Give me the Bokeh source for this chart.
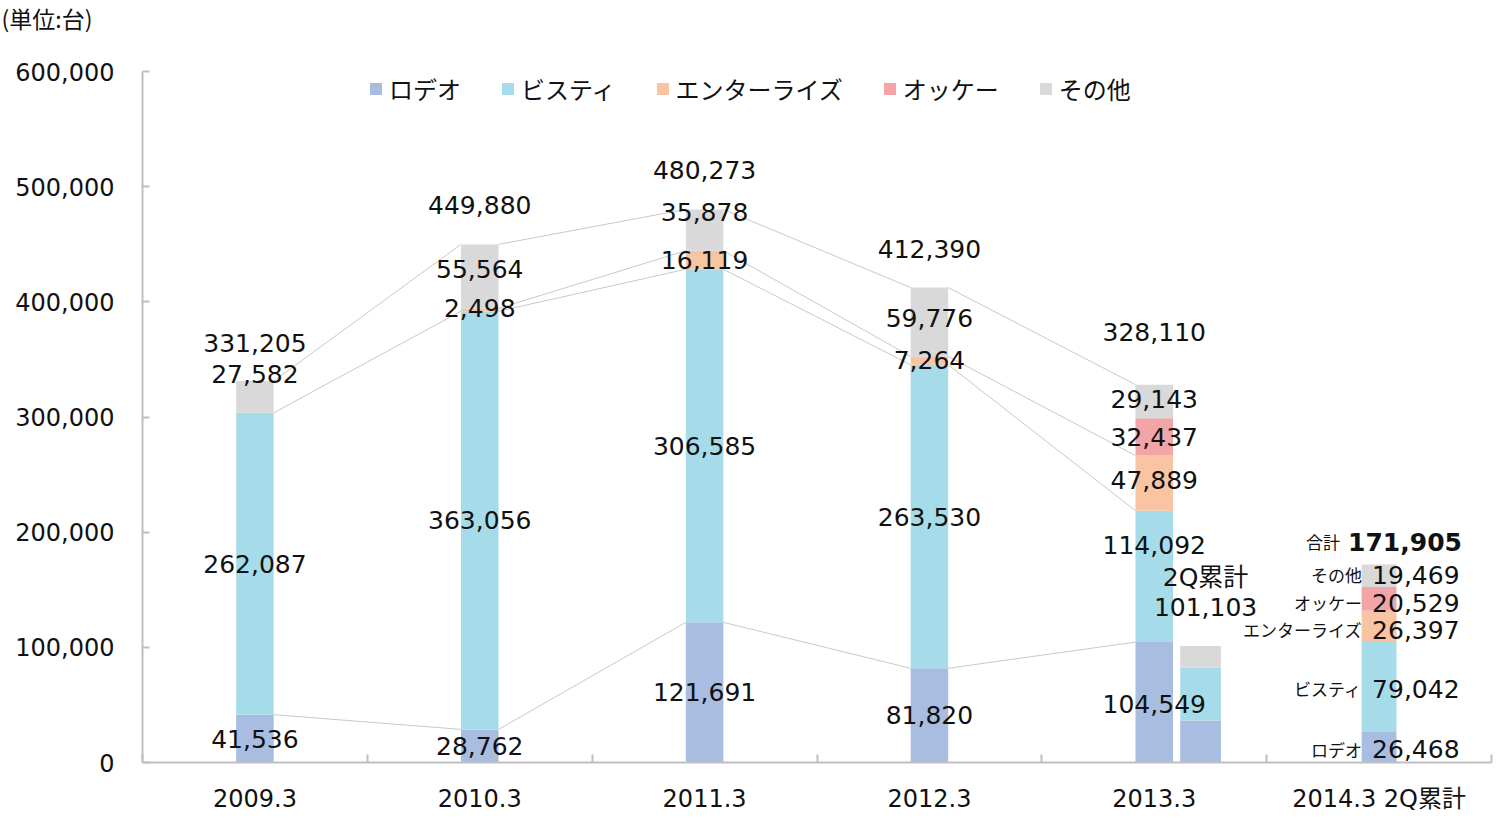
import numpy as np
from bokeh.plotting import figure
from bokeh.models import (ColumnDataSource, Range1d, FixedTicker, NumeralTickFormatter,
                          Legend, LegendItem)
from bokeh.core.properties import value
from bokeh.embed import file_html
from bokeh.resources import INLINE

# ---------------- data ----------------
categories = ["2009.3", "2010.3", "2011.3", "2012.3", "2013.3", "2014.3 2Q累計"]
series_names = ["ロデオ", "ビスティ", "エンターライズ", "オッケー", "その他"]
rodeo = [41536, 28762, 121691, 81820, 104549, 26468]
vista = [262087, 363056, 306585, 263530, 114092, 79042]
enterrise = [0, 2498, 16119, 7264, 47889, 26397]
okke = [0, 0, 0, 0, 32437, 20529]
other = [27582, 55564, 35878, 59776, 29143, 19469]
totals = [331205, 449880, 480273, 412390, 328110, 171905]

# 2013.3 first-half (2Q累計) bar
q2_2013_label = "2Q累計"
q2_2013_rodeo = 36500
q2_2013_vista = 46000
q2_2013_other = 18603
q2_2013_total = 101103

y_ticks = [0, 100000, 200000, 300000, 400000, 500000, 600000]
unit_label = "(単位:台)"
total_name = "合計"

# ---------------- style ----------------
colors = ["#a9bde0", "#a6dcea", "#f8c4a2", "#f2a4a7", "#d9d9d9"]
bar_w = [0.167, 0.167, 0.167, 0.167, 0.167, 0.155]
q2_offset = 0.206
q2_w = 0.181
axis_col = "#bfbfbf"
txt_col = "#111111"
num_font = "DejaVu Sans"
jp_font = "Noto Sans CJK JP"
mix_font = "DejaVu Sans, Noto Sans CJK JP"

label_dy = {
    "ロデオ": [0, 0, 0, 0, 2, 2],
    "ビスティ": [0, 0, 0, 0, -31, 2],
    "エンターライズ": [0, -2, 0, -1, -3, 4],
    "オッケー": [0, 0, 0, 0, 0, 4],
    "その他": [-23, -7, -18, -4, -2, -1],
}
total_dy = [-38, -39, -39, -39, -53, -23]

series_vals = [rodeo, vista, enterrise, okke, other]
n = len(categories)
xs = [i + 0.5 for i in range(n)]

vals = np.array(series_vals, dtype=float)
tops = np.cumsum(vals, axis=0)
bottoms = tops - vals

# frame extends above the 600,000 line so the unit title can sit near the top
frame_h = 726
y_top = 600000 * frame_h / 691

p = figure(frame_width=1349, frame_height=frame_h, x_range=Range1d(0, 6), y_range=Range1d(0, y_top),
           output_backend="svg", toolbar_location=None,
           min_border_left=142, min_border_right=3, min_border_top=36, min_border_bottom=45)
p.grid.visible = False
p.outline_line_color = None
p.background_fill_color = "white"
p.border_fill_color = "white"

# unit label as title
p.title.text = unit_label
p.title.align = "left"
p.title.vertical_align = "top"
p.title.offset = -141
p.title.standoff = 0
p.title.text_font = jp_font
p.title.text_font_size = "23px"
p.title.text_font_style = "normal"
p.title.text_color = txt_col

# bars
src = ColumnDataSource(dict(x=xs, w=bar_w, **{f"s{k}": series_vals[k] for k in range(5)}))
renderers = p.vbar_stack([f"s{k}" for k in range(5)], x="x", width="w", source=src,
                         color=colors, line_color=None)

q2_src = ColumnDataSource(dict(x=[xs[4] + q2_offset], a=[q2_2013_rodeo], b=[q2_2013_vista],
                               c=[q2_2013_other]))
p.vbar_stack(["a", "b", "c"], x="x", width=q2_w, source=q2_src,
             color=[colors[0], colors[1], colors[4]], line_color=None)

# series lines between consecutive bars (2009.3 .. 2013.3)
sx0, sx1, sy0, sy1 = [], [], [], []
for k in range(5):
    for i in range(4):
        if vals[k, i] > 0 and vals[k, i + 1] > 0:
            sx0.append(xs[i] + bar_w[i] / 2)
            sx1.append(xs[i + 1] - bar_w[i + 1] / 2)
            sy0.append(tops[k, i])
            sy1.append(tops[k, i + 1])
p.segment(sx0, sy0, sx1, sy1, line_color="#c8c8c8", line_width=1)

# value labels for first five categories
lx, ly, lt, ldy = [], [], [], []
for i in range(5):
    for k in range(5):
        if vals[k, i] > 0:
            lx.append(xs[i])
            ly.append(bottoms[k, i] + vals[k, i] / 2)
            lt.append(f"{int(vals[k, i]):,}")
            ldy.append(label_dy[series_names[k]][i])
    lx.append(xs[i]); ly.append(totals[i]); lt.append(f"{totals[i]:,}"); ldy.append(total_dy[i])
lab_src = ColumnDataSource(dict(x=lx, y=ly, t=lt, dy=ldy))
p.text(x="x", y="y", text="t", source=lab_src, y_offset="dy", text_align="center",
       text_baseline="middle", text_font=value(num_font), text_font_size=value("25px"),
       text_color=txt_col)

# last category: name + value labels
i = 5
vx, vy, vt, vdy = [], [], [], []
for k in range(5):
    vx.append(xs[i]); vy.append(bottoms[k, i] + vals[k, i] / 2)
    vt.append(f"{int(vals[k, i]):,}"); vdy.append(label_dy[series_names[k]][i])
v_src = ColumnDataSource(dict(x=vx, y=vy, t=vt, dy=vdy, name=series_names))
p.text(x="x", y="y", text="t", source=v_src, y_offset="dy", x_offset=-7, text_align="left",
       text_baseline="middle", text_font=value(num_font), text_font_size=value("25px"),
       text_color=txt_col)
p.text(x="x", y="y", text="name", source=v_src, y_offset="dy", x_offset=-17, text_align="right",
       text_baseline="middle", text_font=value(jp_font), text_font_size=value("17px"),
       text_color=txt_col)
t_src = ColumnDataSource(dict(x=[xs[i]], y=[totals[i]], t=[f"{totals[i]:,}"], name=[total_name],
                              dy=[total_dy[i]]))
p.text(x="x", y="y", text="t", source=t_src, y_offset="dy", x_offset=-31, text_align="left",
       text_baseline="middle", text_font=value(num_font), text_font_size=value("25px"),
       text_font_style="bold", text_color=txt_col)
p.text(x="x", y="y", text="name", source=t_src, y_offset="dy", x_offset=-39, text_align="right",
       text_baseline="middle", text_font=value(jp_font), text_font_size=value("17px"),
       text_color=txt_col)

# 2Q bar label
q_src = ColumnDataSource(dict(x=[xs[4] + q2_offset] * 2, y=[q2_2013_total] * 2,
                              t=[q2_2013_label, f"{q2_2013_total:,}"], dy=[-69, -39]))
p.text(x="x", y="y", text="t", source=q_src, y_offset="dy", x_offset=5, text_align="center",
       text_baseline="middle", text_font=value(mix_font), text_font_size=value("25px"),
       text_color=txt_col)

# axes
xa = p.xaxis[0]
xa.ticker = FixedTicker(ticks=xs, minor_ticks=list(range(n + 1)))
xa.major_label_overrides = {x: c for x, c in zip(xs, categories)}
xa.major_tick_line_color = None
xa.minor_tick_in = 8
xa.minor_tick_out = 0
xa.minor_tick_line_color = axis_col
xa.minor_tick_line_width = 2
xa.axis_line_color = axis_col
xa.axis_line_width = 2
xa.major_label_text_font = mix_font
xa.major_label_text_font_size = "24px"
xa.major_label_text_color = txt_col
xa.major_label_standoff = 16

ya = p.yaxis[0]
ya.ticker = FixedTicker(ticks=y_ticks, minor_ticks=[])
ya.bounds = (0, 600000)
ya.formatter = NumeralTickFormatter(format="0,0")
ya.major_tick_in = 7
ya.major_tick_out = 0
ya.major_tick_line_color = axis_col
ya.major_tick_line_width = 2
ya.minor_tick_line_color = None
ya.axis_line_color = axis_col
ya.axis_line_width = 2
ya.major_label_text_font = num_font
ya.major_label_text_font_size = "24px"
ya.major_label_text_color = txt_col
ya.major_label_standoff = 28

# legend
legend = Legend(items=[LegendItem(label=nm, renderers=[r]) for nm, r in zip(series_names, renderers)],
                orientation="horizontal", location=(226, 656), padding=0, margin=0, spacing=39,
                label_standoff=6, glyph_width=15, glyph_height=15,
                label_text_font=jp_font, label_text_font_size="24px", label_text_color=txt_col,
                border_line_color=None, background_fill_alpha=0)
p.add_layout(legend)

open("out.html", "w").write(file_html(p, INLINE))
